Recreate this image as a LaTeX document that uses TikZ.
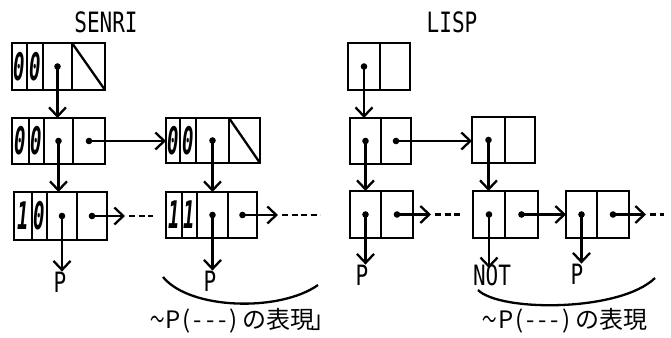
\documentclass[tikz,border=0pt]{standalone}
\usepackage{fontspec}
\usepackage{graphicx}
\setmainfont{DejaVu Sans Mono}
\newfontfamily\cjk{Noto Sans CJK JP}
\usetikzlibrary{arrows.meta}
\tikzset{
  cell/.style={draw,line width=2.5pt,inner sep=0pt,outer sep=0pt},
  arr/.style={line width=2.3pt,-{Straight Barb[length=9pt,width=17pt,line width=2.3pt]}},
  ln/.style={line width=2.3pt},
  dashln/.style={line width=2.3pt,dash pattern=on 6pt off 3.5pt},
  lbl/.style={inner sep=0pt,font=\fontsize{28}{28}\selectfont},
  caplbl/.style={inner sep=0pt,font=\fontsize{24}{24}\selectfont},
  dig/.style={font=\fontsize{38}{38}\selectfont\bfseries\itshape}
}
\newcommand\mycell[6]{%
  \node[cell,minimum width={(#3-#2)*1pt},minimum height={(#5-#4)*1pt}] (#1) at ({(#2+#3)/2},{(#4+#5)/2}) {#6};}
\newcommand\dg[1]{\scalebox{0.5}[1]{#1}}
\newcommand\nx[1]{\scalebox{0.75}[1]{#1}}
\newcommand\dotat[1]{\fill (#1) circle (3.3pt);}
\newcommand\capt{{\cjk \scalebox{0.6}[1]{～}\hspace{1pt}P\hspace{2pt}(\hspace{3pt}-\hspace{4pt}-\hspace{4pt}-\hspace{3pt})\hspace{5pt}の表現}}
\begin{document}
\begin{tikzpicture}[x=1pt,y=-1pt]
\useasboundingbox (0,0) rectangle (671,337);
% titles
\node[lbl] (tsenri) at (106,22) {\nx{SENRI}};
\node[lbl] (tlisp) at (452,22) {\nx{LISP}};
% ---------- SENRI ----------
\mycell{s1a}{12}{27}{43}{90}{}
\mycell{s1b}{27}{43}{43}{90}{}
\mycell{s1c}{43}{72}{43}{90}{}
\mycell{s1d}{72}{105}{43}{90}{}
\node[dig] at (s1a) {\dg{0}};
\node[dig] at (s1b) {\dg{0}};
\draw[ln] (s1d.north west) -- (s1d.south east);
\mycell{s2a}{12}{29}{118}{164}{}
\mycell{s2b}{29}{44}{118}{164}{}
\mycell{s2c}{44}{73}{118}{164}{}
\mycell{s2d}{73}{105}{118}{164}{}
\node[dig] at (s2a) {\dg{0}};
\node[dig] at (s2b) {\dg{0}};
\mycell{s3a}{166}{180}{118}{163}{}
\mycell{s3b}{180}{196}{118}{163}{}
\mycell{s3c}{196}{229}{118}{163}{}
\mycell{s3d}{229}{260}{118}{163}{}
\node[dig] at (s3a) {\dg{0}};
\node[dig] at (s3b) {\dg{0}};
\draw[ln] (s3d.north west) -- (s3d.south east);
\mycell{s4a}{14}{32}{192}{240}{}
\mycell{s4b}{32}{47}{192}{240}{}
\mycell{s4c}{47}{77}{192}{240}{}
\mycell{s4d}{77}{107}{192}{240}{}
\node[dig] at (s4a) {\dg{1}};
\node[dig] at (s4b) {\dg{0}};
\mycell{s5a}{166}{182}{192}{238}{}
\mycell{s5b}{182}{197}{192}{238}{}
\mycell{s5c}{197}{228}{192}{238}{}
\mycell{s5d}{228}{257}{192}{238}{}
\node[dig] at (s5a) {\dg{1}};
\node[dig] at (s5b) {\dg{1}};
% SENRI labels
\node[lbl] (sp1) at (60,282) {\nx{P}};
\node[lbl] (sp2) at (210,281) {\nx{P}};
\coordinate (se1) at (125,216);
\coordinate (se2) at (278,216);
% SENRI connectors
\dotat{s1c.center}\dotat{s2c.center}\dotat{s2d.center}\dotat{s3c.center}
\dotat{s4c.center}\dotat{s4d.center}\dotat{s5c.center}\dotat{s5d.center}
\draw[arr] (s1c.center) -- (s1c.center |- s2c.north);
\draw[arr] (s2c.center) -- (s2c.center |- s4c.north);
\draw[arr] (s3c.center) -- (s3c.center |- s5c.north);
\draw[arr] (s2d.center) -- (s2d.center -| s3a.west);
\draw[arr] (s4c.center) -- (s4c.center |- sp1.north);
\draw[arr] (s5c.center) -- (s5c.center |- sp2.north);
\draw[arr] (s4d.center) -- (s4d.center -| se1);
\draw[arr] (s5d.center) -- (s5d.center -| se2);
\draw[dashln] ([xshift=4pt]s4d.center -| se1) -- ++(24,0);
\draw[dashln] ([xshift=4pt]s5d.center -| se2) -- ++(38,0);
\coordinate (sa1) at (163,277);
\coordinate (sa2) at (318,285);
\draw[ln] (sa1) .. controls (190,310) and (280,312) .. (sa2);
\node[caplbl] (scap) at (243,321) {\capt{\cjk\hspace{-3pt}」}};
% ---------- LISP ----------
\mycell{l1a}{348}{380}{43}{90}{}
\mycell{l1b}{380}{410}{43}{90}{}
\mycell{l2a}{350}{381}{118}{164}{}
\mycell{l2b}{381}{411}{118}{164}{}
\mycell{l3a}{472}{505}{117}{163}{}
\mycell{l3b}{505}{535}{117}{163}{}
\mycell{l4a}{350}{381}{191}{238}{}
\mycell{l4b}{381}{413}{191}{238}{}
\mycell{l5a}{473}{505}{191}{238}{}
\mycell{l5b}{505}{538}{191}{238}{}
\mycell{l6a}{566}{597}{191}{238}{}
\mycell{l6b}{597}{629}{191}{238}{}
\node[lbl] (lp1) at (362,275) {\nx{P}};
\node[lbl] (lnot) at (492,275) {\nx{NOT}};
\node[lbl] (lp2) at (577,274) {\nx{P}};
\coordinate (le1) at (431,213);
\coordinate (le2) at (646,213);
\dotat{l1a.center}\dotat{l2a.center}\dotat{l2b.center}\dotat{l3a.center}
\dotat{l4a.center}\dotat{l4b.center}\dotat{l5a.center}\dotat{l5b.center}
\dotat{l6a.center}\dotat{l6b.center}
\draw[arr] (l1a.center) -- (l1a.center |- l2a.north);
\draw[arr] (l2a.center) -- (l2a.center |- l4a.north);
\draw[arr] (l3a.center) -- (l3a.center |- l5a.north);
\draw[arr] (l2b.center) -- (l2b.center -| l3a.west);
\draw[arr] (l5b.center) -- (l5b.center -| l6a.west);
\draw[arr] (l4a.center) -- (l4a.center |- lp1.north);
\draw[arr] (l5a.center) -- ([yshift=-4pt]l5a.center |- lnot.north);
\draw[arr] (l6a.center) -- (l6a.center |- lp2.north);
\draw[arr] (l4b.center) -- (l4b.center -| le1);
\draw[arr] (l6b.center) -- (l6b.center -| le2);
\draw[dashln] ([xshift=4pt]l4b.center -| le1) -- ++(28,0);
\draw[dashln] ([xshift=4pt]l6b.center -| le2) -- ++(14,0);
\coordinate (la1) at (478,290);
\coordinate (la2) at (655,278);
\draw[ln] (la1) .. controls (500,312) and (620,312) .. (la2);
\node[caplbl] (lcap) at (565,321) {\capt};
\end{tikzpicture}
\end{document}
